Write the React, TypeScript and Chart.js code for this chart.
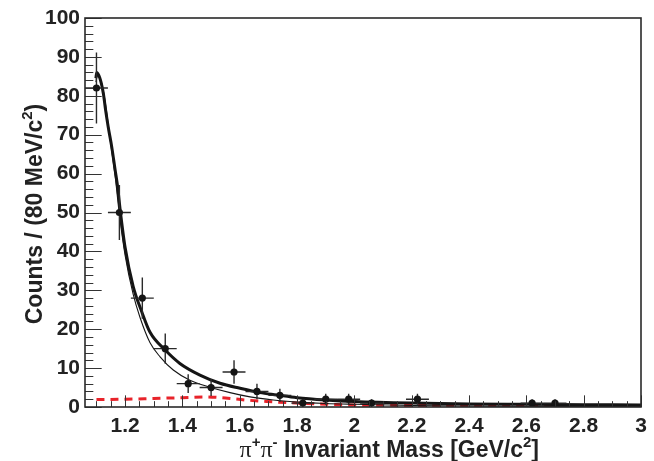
import { useEffect, useRef } from 'react';
import { Chart, registerables } from 'chart.js';

Chart.register(...registerables);

// Measured histogram (80 MeV bins)
const binCenters = [1.10, 1.18, 1.26, 1.34, 1.42, 1.50, 1.58, 1.66, 1.74, 1.82, 1.90, 1.98, 2.06, 2.22, 2.62, 2.70];
const binCounts = [82, 50, 28, 15, 6, 5, 9, 4, 3, 1, 2, 2, 1, 2, 1, 1];
const countErrors = [9.1, 7.1, 5.3, 3.9, 2.4, 2.2, 3.0, 2.0, 1.7, 1.0, 1.4, 1.4, 1.0, 1.4, 1.0, 1.0];
const binHalfWidth = 0.04;

// Total fit (thick line)
const totalFitMass = [1.098, 1.101, 1.112, 1.124, 1.132, 1.141, 1.153, 1.165, 1.174, 1.183, 1.2, 1.228, 1.258, 1.287, 1.339, 1.391, 1.461, 1.531, 1.601, 1.67, 1.729, 1.8, 1.9, 2.0, 2.2, 2.4, 2.6, 2.8, 3.0];
const totalFitCounts = [84.5, 86, 84.5, 80.6, 76.3, 72, 67, 61, 56.5, 50.5, 41, 31, 24.5, 19.2, 14.7, 11.2, 8.2, 6.1, 4.8, 3.7, 3.1, 2.4, 1.8, 1.4, 1.0, 0.8, 0.7, 0.6, 0.5];

// Alternative fit (thin line)
const thinFitMass = [1.098, 1.103, 1.115, 1.126, 1.136, 1.15, 1.165, 1.18, 1.2, 1.228, 1.252, 1.287, 1.322, 1.368, 1.426, 1.496, 1.566, 1.636, 1.717, 1.8, 1.9, 2.0, 2.2, 2.5, 3.0];
const thinFitCounts = [83.5, 85.5, 84, 80.5, 75.5, 67.5, 59.5, 49.5, 39, 29, 23, 16.5, 12.9, 9.5, 6.9, 5.1, 3.7, 2.6, 1.8, 1.3, 0.9, 0.7, 0.4, 0.2, 0.1];

// Background (red dashed)
const bkgMass = [1.10, 1.2, 1.3, 1.4, 1.48, 1.55, 1.62, 1.7, 1.8, 1.9, 2.0, 2.2, 2.5, 3.0];
const bkgCounts = [1.9, 2.0, 2.2, 2.4, 2.6, 2.3, 1.8, 1.4, 1.0, 0.7, 0.5, 0.4, 0.3, 0.3];

const xTickValues = [1.2, 1.4, 1.6, 1.8, 2.0, 2.2, 2.4, 2.6, 2.8, 3.0];
const xTickLabels = ['1.2', '1.4', '1.6', '1.8', '2', '2.2', '2.4', '2.6', '2.8', '3'];
const yTickValues = [0, 10, 20, 30, 40, 50, 60, 70, 80, 90, 100];

const X_MIN = 1.06;
const X_MAX = 3.0;
const INK = '#222';
const SANS = '"Liberation Sans", Arial, Helvetica, sans-serif';
const SERIF = '"Liberation Serif", "DejaVu Serif", serif';

type Part = { t: string; font: string; sup?: boolean };

function measureParts(ctx: CanvasRenderingContext2D, parts: Part[]) {
  let w = 0;
  for (const p of parts) {
    ctx.font = p.font;
    w += ctx.measureText(p.t).width;
  }
  return w;
}

function drawParts(ctx: CanvasRenderingContext2D, parts: Part[], x: number, y: number, supShift: number) {
  let cx = x;
  for (const p of parts) {
    ctx.font = p.font;
    ctx.fillText(p.t, cx, p.sup ? y - supShift : y);
    cx += ctx.measureText(p.t).width;
  }
}

const errorBarPlugin = {
  id: 'errorBars',
  beforeDatasetDraw(chart: any, args: any) {
    if (args.index !== 0) return;
    const { ctx, scales } = chart;
    const xs = scales.x;
    const ys = scales.y;
    ctx.save();
    ctx.strokeStyle = '#2a2a2a';
    ctx.lineWidth = 1.4;
    binCenters.forEach((m, i) => {
      const px = xs.getPixelForValue(m);
      const py = ys.getPixelForValue(binCounts[i]);
      const x0 = xs.getPixelForValue(m - binHalfWidth);
      const x1 = xs.getPixelForValue(m + binHalfWidth);
      const y0 = ys.getPixelForValue(Math.max(0, binCounts[i] - countErrors[i]));
      const y1 = ys.getPixelForValue(binCounts[i] + countErrors[i]);
      ctx.beginPath();
      ctx.moveTo(x0, py);
      ctx.lineTo(x1, py);
      ctx.moveTo(px, y0);
      ctx.lineTo(px, y1);
      ctx.stroke();
    });
    ctx.restore();
  },
};

const framePlugin = {
  id: 'rootFrame',
  afterDatasetsDraw(chart: any) {
    const { ctx, chartArea, scales } = chart;
    const xs = scales.x;
    const ys = scales.y;
    const { left, right, top, bottom } = chartArea;
    const h = bottom - top;
    const w = right - left;
    ctx.save();
    ctx.strokeStyle = '#333';
    ctx.lineWidth = 1;
    const xMajor = 0.03 * h;
    const xMinor = 0.015 * h;
    ctx.beginPath();
    for (let k = 0; k <= 40; k++) {
      const v = 1.1 + k * 0.05;
      if (v > X_MAX + 1e-9) break;
      const isMajor = xTickValues.some((t) => Math.abs(t - v) < 1e-6);
      const px = Math.round(xs.getPixelForValue(v)) + 0.5;
      ctx.moveTo(px, bottom);
      ctx.lineTo(px, bottom - (isMajor ? xMajor : xMinor));
    }
    const yMajor = 0.03 * w;
    const yMinor = 0.015 * w;
    for (let v = 0; v <= 100; v += 2) {
      const isMajor = yTickValues.includes(v);
      const py = Math.round(ys.getPixelForValue(v)) + 0.5;
      ctx.moveTo(left, py);
      ctx.lineTo(left + (isMajor ? yMajor : yMinor), py);
    }
    ctx.stroke();
    ctx.lineWidth = 1.6;
    ctx.strokeStyle = '#2a2a2a';
    ctx.strokeRect(left, top, w, h);
    ctx.restore();
  },
  afterDraw(chart: any) {
    const { ctx } = chart;
    ctx.save();
    ctx.fillStyle = INK;
    ctx.textBaseline = 'alphabetic';
    ctx.textAlign = 'left';
    const bold = `bold 23px ${SANS}`;
    const supF = `bold 15px ${SANS}`;
    const pi = `24px ${SERIF}`;
    const xParts: Part[] = [
      { t: 'π', font: pi },
      { t: '+', font: supF, sup: true },
      { t: 'π', font: pi },
      { t: '-', font: supF, sup: true },
      { t: ' Invariant Mass [GeV/c', font: bold },
      { t: '2', font: supF, sup: true },
      { t: ']', font: bold },
    ];
    const xw = measureParts(ctx, xParts);
    drawParts(ctx, xParts, 539 - xw, 457, 10);

    const yParts: Part[] = [
      { t: 'Counts / (80 MeV/c', font: bold },
      { t: '2', font: supF, sup: true },
      { t: ')', font: bold },
    ];
    const yw = measureParts(ctx, yParts);
    ctx.translate(42, 214);
    ctx.rotate(-Math.PI / 2);
    drawParts(ctx, yParts, -yw / 2, 0, 10);
    ctx.restore();
  },
};

export default function App() {
  const canvasRef = useRef<HTMLCanvasElement | null>(null);

  useEffect(() => {
    document.body.style.margin = '0';
    const canvas = canvasRef.current;
    if (!canvas) return;

    const chart = new Chart(canvas, {
      type: 'scatter',
      data: {
        datasets: [
          {
            label: 'Data',
            data: binCenters.map((m, i) => ({ x: m, y: binCounts[i] })),
            showLine: false,
            pointRadius: 3.6,
            pointBorderWidth: 0,
            pointBackgroundColor: '#151515',
            pointBorderColor: '#151515',
          },
          {
            label: 'Total fit',
            data: totalFitMass.map((m, i) => ({ x: m, y: totalFitCounts[i] })),
            showLine: true,
            pointRadius: 0,
            borderColor: '#151515',
            borderWidth: 3,
            cubicInterpolationMode: 'monotone',
          },
          {
            label: 'Alternative fit',
            data: thinFitMass.map((m, i) => ({ x: m, y: thinFitCounts[i] })),
            showLine: true,
            pointRadius: 0,
            borderColor: '#151515',
            borderWidth: 1.1,
            cubicInterpolationMode: 'monotone',
          },
          {
            label: 'Background',
            data: bkgMass.map((m, i) => ({ x: m, y: bkgCounts[i] })),
            showLine: true,
            pointRadius: 0,
            borderColor: '#e8232a',
            borderWidth: 3,
            borderDash: [8, 6],
            cubicInterpolationMode: 'monotone',
          },
        ],
      },
      options: {
        responsive: false,
        animation: false,
        layout: { padding: { top: 18, right: 13, left: 0, bottom: 0 } },
        plugins: {
          legend: { display: false },
          tooltip: { enabled: false },
          title: { display: false },
        },
        scales: {
          x: {
            type: 'linear',
            min: X_MIN,
            max: X_MAX,
            grid: { display: false, drawTicks: false },
            border: { display: false },
            afterBuildTicks: (scale: any) => {
              scale.ticks = xTickValues.map((v) => ({ value: v }));
            },
            afterFit: (scale: any) => {
              scale.height = 54;
            },
            ticks: {
              padding: 7,
              color: INK,
              font: { family: SANS, weight: 'bold', size: 21 },
              maxRotation: 0,
              autoSkip: false,
              callback: (value: any) => {
                const idx = xTickValues.findIndex((t) => Math.abs(t - Number(value)) < 1e-6);
                return idx >= 0 ? xTickLabels[idx] : '';
              },
            },
          },
          y: {
            type: 'linear',
            min: 0,
            max: 100,
            grid: { display: false, drawTicks: false },
            border: { display: false },
            afterBuildTicks: (scale: any) => {
              scale.ticks = yTickValues.map((v) => ({ value: v }));
            },
            afterFit: (scale: any) => {
              scale.width = 85;
            },
            ticks: {
              padding: 5,
              color: INK,
              font: { family: SANS, weight: 'bold', size: 21 },
              callback: (value: any) => String(value),
            },
          },
        },
      },
      plugins: [errorBarPlugin, framePlugin],
    } as any);

    return () => chart.destroy();
  }, []);

  return (
    <div style={{ width: 654, height: 461 }}>
      <canvas ref={canvasRef} width={654} height={461} style={{ display: 'block' }} />
    </div>
  );
}
